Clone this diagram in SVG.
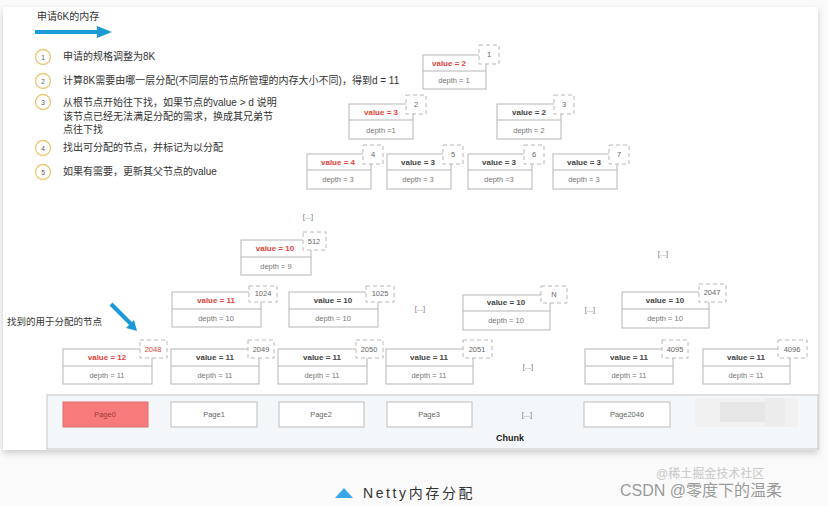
<svg xmlns="http://www.w3.org/2000/svg" width="828" height="506" viewBox="0 0 828 506">
<defs>
<style>
text{font-family:"Liberation Sans","Noto Sans CJK SC",sans-serif;}
.step{font-size:10px;fill:#333;}
.num{font-size:6.5px;fill:#555;text-anchor:middle;}
.circ{fill:#fff;stroke:#ebc779;stroke-width:1.3;}
.box{fill:#fff;stroke:#b5b5b5;stroke-width:1;}
.tag{fill:#fff;stroke:#b8b8b8;stroke-width:1;stroke-dasharray:4 3;}
.v{font-size:8px;font-weight:bold;fill:#444;text-anchor:middle;}
.vr{font-size:8px;font-weight:bold;fill:#e0453a;text-anchor:middle;}
.d{font-size:7.5px;fill:#777;text-anchor:middle;}
.t{font-size:7.5px;fill:#666;text-anchor:middle;}
.tr{font-size:7.5px;fill:#e0453a;text-anchor:middle;}
.dots{font-size:7.5px;fill:#777;text-anchor:middle;}
.page{fill:#fff;stroke:#bbb;stroke-width:1;}
.pt{font-size:7.5px;fill:#666;text-anchor:middle;}
</style>
<filter id="sh" x="-5%" y="-5%" width="110%" height="115%">
<feDropShadow dx="0" dy="3" stdDeviation="3" flood-color="#000" flood-opacity="0.18"/>
</filter>
</defs>
<rect x="0" y="0" width="828" height="506" fill="#fafafa"/>
<rect x="3" y="7" width="815" height="443" fill="#fff" filter="url(#sh)"/>

<g id="header">
<text x="37" y="20" style="font-size:10px;fill:#333;">申请6K的内存</text>
<line x1="35" y1="32" x2="99" y2="32" stroke="#1a9ad6" stroke-width="4"/>
<path d="M97,26 L112,32 L97,38 z" fill="#1a9ad6"/>
</g>

<g id="steps">
<circle class="circ" cx="43" cy="57" r="7.5"/><text class="num" x="43" y="59.5">1</text>
<text class="step" x="63" y="60">申请的规格调整为8K</text>
<circle class="circ" cx="43" cy="81" r="7.5"/><text class="num" x="43" y="83.5">2</text>
<text class="step" x="63" y="84">计算8K需要由哪一层分配(不同层的节点所管理的内存大小不同)，得到d = 11</text>
<circle class="circ" cx="43" cy="102" r="7.5"/><text class="num" x="43" y="104.5">3</text>
<text class="step" x="63" y="106">从根节点开始往下找，如果节点的value &gt; d 说明</text>
<text class="step" x="63" y="120">该节点已经无法满足分配的需求，换成其兄弟节</text>
<text class="step" x="63" y="133">点往下找</text>
<circle class="circ" cx="43" cy="148" r="7.5"/><text class="num" x="43" y="150.5">4</text>
<text class="step" x="63" y="151">找出可分配的节点，并标记为以分配</text>
<circle class="circ" cx="43" cy="172" r="7.5"/><text class="num" x="43" y="174.5">5</text>
<text class="step" x="63" y="175">如果有需要，更新其父节点的value</text>
</g>

<g id="n1"><rect class="box" x="423" y="55" width="63" height="34"/><line class="box" x1="423" y1="71" x2="486" y2="71"/><rect class="tag" x="479" y="45" width="20" height="19"/><text class="t" x="489" y="57">1</text><text class="vr" x="449" y="66">value = 2</text><text class="d" x="454" y="83">depth = 1</text></g>
<g id="n2"><rect class="box" x="349" y="104" width="64" height="35"/><line class="box" x1="349" y1="120" x2="413" y2="120"/><rect class="tag" x="406" y="95" width="20" height="19"/><text class="t" x="416" y="107">2</text><text class="vr" x="381" y="115">value = 3</text><text class="d" x="381" y="133">depth =1</text></g>
<g id="n3"><rect class="box" x="497" y="104" width="64" height="35"/><line class="box" x1="497" y1="120" x2="561" y2="120"/><rect class="tag" x="554" y="95" width="20" height="19"/><text class="t" x="564" y="107">3</text><text class="v" x="529" y="115">value = 2</text><text class="d" x="529" y="133">depth = 2</text></g>
<g id="n4"><rect class="box" x="307" y="154" width="64" height="35"/><line class="box" x1="307" y1="170" x2="371" y2="170"/><rect class="tag" x="363" y="145" width="20" height="19"/><text class="t" x="373" y="157">4</text><text class="vr" x="338" y="165">value = 4</text><text class="d" x="338" y="182">depth = 3</text></g>
<g id="n5"><rect class="box" x="387" y="154" width="64" height="35"/><line class="box" x1="387" y1="170" x2="451" y2="170"/><rect class="tag" x="443" y="145" width="20" height="19"/><text class="t" x="453" y="157">5</text><text class="v" x="418" y="165">value = 3</text><text class="d" x="418" y="182">depth = 3</text></g>
<g id="n6"><rect class="box" x="468" y="154" width="64" height="35"/><line class="box" x1="468" y1="170" x2="532" y2="170"/><rect class="tag" x="524" y="145" width="20" height="19"/><text class="t" x="534" y="157">6</text><text class="v" x="499" y="165">value = 3</text><text class="d" x="499" y="182">depth =3</text></g>
<g id="n7"><rect class="box" x="553" y="154" width="64" height="35"/><line class="box" x1="553" y1="170" x2="617" y2="170"/><rect class="tag" x="609" y="145" width="20" height="19"/><text class="t" x="619" y="157">7</text><text class="v" x="584" y="165">value = 3</text><text class="d" x="584" y="182">depth = 3</text></g>

<text class="dots" x="308" y="219">[...]</text>
<text class="dots" x="663" y="256">[...]</text>

<g id="n512"><rect class="box" x="241" y="240" width="70" height="35"/><line class="box" x1="241" y1="257" x2="311" y2="257"/><rect class="tag" x="303" y="232" width="23" height="18"/><text class="t" x="314" y="244">512</text><text class="vr" x="275" y="251">value = 10</text><text class="d" x="276" y="269">depth = 9</text></g>

<g id="n1024"><rect class="box" x="172" y="292" width="89" height="35"/><line class="box" x1="172" y1="309" x2="261" y2="309"/><rect class="tag" x="249" y="286" width="28" height="16"/><text class="t" x="263" y="296">1024</text><text class="vr" x="216" y="303">value = 11</text><text class="d" x="216" y="321">depth = 10</text></g>
<g id="n1025"><rect class="box" x="289" y="292" width="89" height="35"/><line class="box" x1="289" y1="309" x2="378" y2="309"/><rect class="tag" x="366" y="286" width="28" height="16"/><text class="t" x="380" y="296">1025</text><text class="v" x="333" y="303">value = 10</text><text class="d" x="333" y="321">depth = 10</text></g>
<text class="dots" x="420" y="311">[...]</text>
<g id="nN"><rect class="box" x="463" y="295" width="87" height="35"/><line class="box" x1="463" y1="311" x2="550" y2="311"/><rect class="tag" x="541" y="286" width="26" height="17"/><text class="t" x="554" y="297">N</text><text class="v" x="506" y="305">value = 10</text><text class="d" x="506" y="323">depth = 10</text></g>
<text class="dots" x="590" y="312">[...]</text>
<g id="n2047"><rect class="box" x="622" y="292" width="87" height="36"/><line class="box" x1="622" y1="309" x2="709" y2="309"/><rect class="tag" x="699" y="284" width="27" height="18"/><text class="t" x="712" y="295">2047</text><text class="v" x="665" y="303">value = 10</text><text class="d" x="665" y="321">depth = 10</text></g>

<g id="hint">
<text x="7" y="325" style="font-size:9.5px;fill:#333;">找到的用于分配的节点</text>
<line x1="111" y1="304" x2="132" y2="325" stroke="#1a9ad6" stroke-width="4"/>
<path d="M126,328 L137,331 L134,320 z" fill="#1a9ad6"/>
</g>

<g id="n2048"><rect class="box" x="63" y="349" width="89" height="35"/><line class="box" x1="63" y1="366" x2="152" y2="366"/><rect class="tag" x="140" y="340" width="27" height="18"/><text class="tr" x="153" y="352">2048</text><text class="vr" x="107" y="360">value = 12</text><text class="d" x="107" y="378">depth = 11</text></g>
<g id="n2049"><rect class="box" x="171" y="349" width="88" height="35"/><line class="box" x1="171" y1="366" x2="259" y2="366"/><rect class="tag" x="248" y="340" width="26" height="18"/><text class="t" x="261" y="352">2049</text><text class="v" x="215" y="360">value = 11</text><text class="d" x="215" y="378">depth = 11</text></g>
<g id="n2050"><rect class="box" x="278" y="349" width="89" height="35"/><line class="box" x1="278" y1="366" x2="367" y2="366"/><rect class="tag" x="356" y="340" width="27" height="18"/><text class="t" x="369" y="352">2050</text><text class="v" x="322" y="360">value = 11</text><text class="d" x="322" y="378">depth = 11</text></g>
<g id="n2051"><rect class="box" x="386" y="349" width="87" height="35"/><line class="box" x1="386" y1="366" x2="473" y2="366"/><rect class="tag" x="463" y="340" width="29" height="18"/><text class="t" x="477" y="352">2051</text><text class="v" x="429" y="360">value = 11</text><text class="d" x="429" y="378">depth = 11</text></g>
<text class="dots" x="528" y="369">[...]</text>
<g id="n4095"><rect class="box" x="585" y="349" width="88" height="35"/><line class="box" x1="585" y1="366" x2="673" y2="366"/><rect class="tag" x="662" y="340" width="26" height="18"/><text class="t" x="675" y="352">4095</text><text class="v" x="629" y="360">value = 11</text><text class="d" x="629" y="378">depth = 11</text></g>
<g id="n4096"><rect class="box" x="703" y="349" width="87" height="35"/><line class="box" x1="703" y1="366" x2="790" y2="366"/><rect class="tag" x="778" y="340" width="29" height="18"/><text class="t" x="792" y="352">4096</text><text class="v" x="746" y="360">value = 11</text><text class="d" x="746" y="378">depth = 11</text></g>

<g id="chunk">
<rect x="47" y="395" width="771" height="54" fill="#f3f7f9" stroke="#c4c4c4" stroke-width="1"/>
<rect x="63" y="402" width="85" height="25" fill="#f77b7b" stroke="#e07070" stroke-width="1"/>
<text class="pt" x="105" y="417" style="fill:#a23a3a;">Page0</text>
<rect class="page" x="171" y="402" width="86" height="25"/><text class="pt" x="214" y="417">Page1</text>
<rect class="page" x="279" y="402" width="85" height="25"/><text class="pt" x="321" y="417">Page2</text>
<rect class="page" x="387" y="402" width="85" height="25"/><text class="pt" x="429" y="417">Page3</text>
<text class="dots" x="527" y="417">[...]</text>
<rect class="page" x="584" y="402" width="86" height="25"/><text class="pt" x="627" y="417">Page2046</text>
<rect x="695" y="398" width="103" height="29" fill="#f1f1f1"/>
<rect x="720" y="402" width="50" height="20" fill="#e6e6e6"/>
<rect x="765" y="398" width="20" height="28" fill="#ececec"/>
<text x="510" y="441" style="font-size:9px;font-weight:bold;fill:#222;text-anchor:middle;">Chunk</text>
</g>

<g id="caption">
<path d="M335,498 L344,488 L353,498 z" fill="#3aa7ea"/>
<text x="363" y="498" style="font-size:14px;fill:#333;letter-spacing:2.6px;">Netty内存分配</text>
<text x="656" y="478" style="font-size:12px;fill:#c8c8c8;">@稀土掘金技术社区</text>
<text x="620" y="496" style="font-size:16px;fill:#9a9a9a;">CSDN @零度下的温柔</text>
</g>
</svg>
